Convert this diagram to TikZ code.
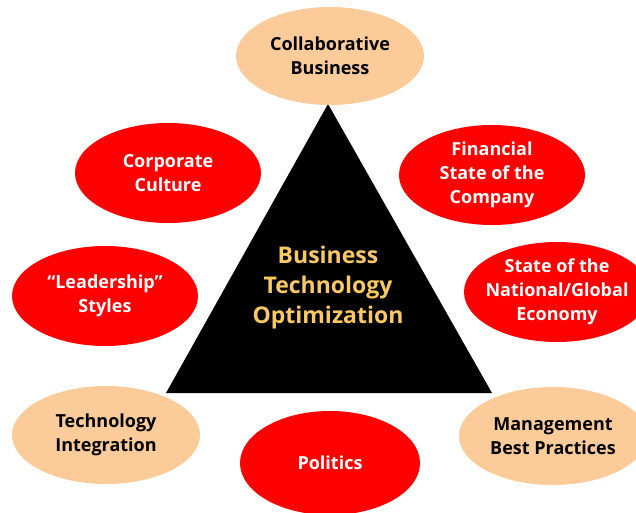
\documentclass[tikz,border=0pt]{standalone}
\usepackage{fontspec}
\setmainfont{Open Sans}
\usetikzlibrary{shapes.geometric}
\definecolor{peach}{RGB}{251,204,153}
\definecolor{gold}{RGB}{250,200,100}
\tikzset{
  bubble/.style={ellipse, inner xsep=-20pt, inner ysep=-10pt, align=center,
    font=\fontsize{18}{24}\selectfont\bfseries},
  redbubble/.style={bubble, fill=red, text=white,
    minimum width=186pt, minimum height=100pt},
  peachbubble/.style={bubble, fill=peach, text=black,
    minimum width=188pt, minimum height=98pt},
}
\begin{document}
\begin{tikzpicture}[x=1pt,y=-1pt]
    \useasboundingbox (0,0) rectangle (636,513);
    \clip (0,0) rectangle (636,513);
    % pyramid
    \coordinate (apex) at (328,104);
    \coordinate (baseL) at (166,393);
    \coordinate (baseR) at (492,393);
    \fill[black] (apex) -- (baseL) -- (baseR) -- cycle;
    \node[text=gold, align=center, font=\fontsize{23}{30}\selectfont\bfseries]
        (core) at (328,288) {Business\\Technology\\Optimization};
    % factors round it
    \node[peachbubble] (collab) at (330,56) {Collaborative\\Business};
    \node[redbubble] (culture) at (168,173) {Corporate\\Culture};
    \node[redbubble] (finance) at (492,175) {Financial\\State of the\\Company};
    \node[redbubble] (leader) at (105,296) {``Leadership''\\Styles};
    \node[redbubble] (economy) at (557,292) {State of the\\National/Global\\Economy};
    \node[peachbubble] (techint) at (106,435) {Technology\\Integration};
    \node[redbubble, minimum width=180pt, minimum height=104pt] (politics) at (330,463) {Politics};
    \node[peachbubble] (mgmt) at (553,436) {Management\\Best Practices};
\end{tikzpicture}
\end{document}
